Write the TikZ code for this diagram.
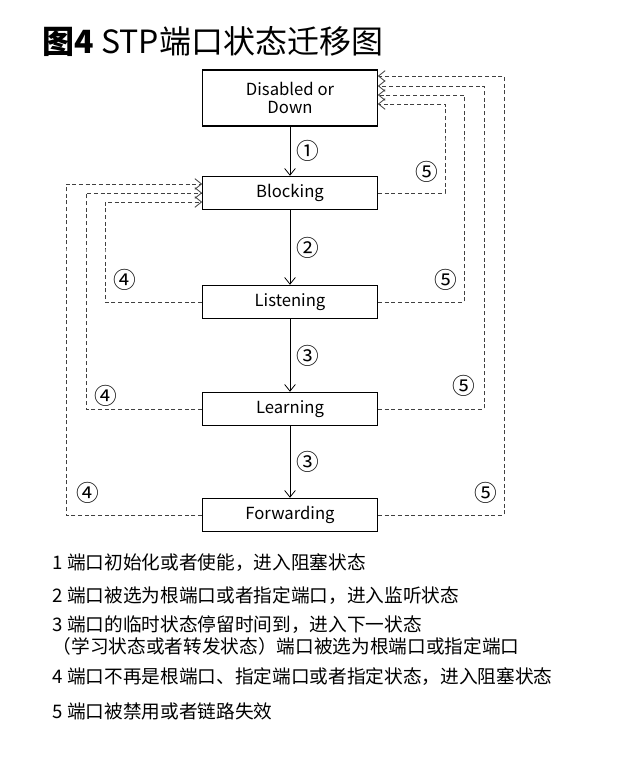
\documentclass[tikz,border=0pt]{standalone}
\usepackage{fontspec}
\setmainfont{Noto Sans CJK SC}
\usetikzlibrary{arrows.meta,calc}
\tikzset{
	zustand/.style={draw,line width=0.8pt,minimum width=131pt,minimum height=25pt,inner sep=0pt,font=\fontsize{12.5}{13.5}\selectfont,align=center},
	pfeil/.style={line width=0.6pt,-{Straight Barb[length=5pt,width=8pt]}},
	zurueck/.style={pfeil,dash pattern=on 3pt off 2pt,draw=black!75},
	nr/.style={font=\fontsize{17}{17}\selectfont}
}
\def\zeile#1#2#3{\node[anchor=west,font=\fontsize{14}{14}\selectfont] (#1) at (48,#2) {#3};}
\begin{document}
\begin{tikzpicture}[x=0.75pt,y=-0.75pt]
\useasboundingbox (0,0) rectangle (636,760);

\node[anchor=west,font=\fontsize{24}{24}\selectfont] (titel) at (38,42) {\textbf{图4} STP端口状态迁移图};

\node[zustand,minimum height=42pt] (dis) at (290,98) {Disabled or\\Down};
\node[zustand] (blk) at (290,193) {Blocking};
\node[zustand] (lis) at (290,302) {Listening};
\node[zustand] (lea) at (290,409) {Learning};
\node[zustand] (fwd) at (290,515) {Forwarding};

% Hauptweg
\draw[pfeil] (dis) -- (blk) node[nr,midway,right=1pt] {①};
\draw[pfeil] (blk) -- (lis) node[nr,midway,right=1pt] {②};
\draw[pfeil] (lis) -- (lea) node[nr,midway,right=1pt] {③};
\draw[pfeil] (lea) -- (fwd) node[nr,midway,right=1pt] {③};

% 5 rechts
\draw[zurueck] (blk.east) -| (445,140) |- ($(dis.east)+(0,6)$);
\draw[zurueck] (lis.east) -| (464,140) |- ($(dis.east)+(0,-3)$);
\draw[zurueck] (lea.east) -| (484,140) |- ($(dis.east)+(0,-12)$);
\draw[zurueck] (fwd.east) -| (504,140) |- ($(dis.east)+(0,-22)$);
\node[nr] (f1) at (427,172) {⑤};
\node[nr] (f2) at (446,280) {⑤};
\node[nr] (f3) at (464,386) {⑤};
\node[nr] (f4) at (486,493) {⑤};

% 4 links
\draw[zurueck] (lis.west) -| (105,250) |- ($(blk.west)+(0,9)$);
\draw[zurueck] (lea.west) -| (86,250) |- ($(blk.west)+(0,0)$);
\draw[zurueck] (fwd.west) -| (66,250) |- ($(blk.west)+(0,-9)$);
\node[nr] (v1) at (125,280) {④};
\node[nr] (v2) at (106,396) {④};
\node[nr] (v3) at (88,493) {④};

% Legende
\zeile{l1}{563}{1 端口初始化或者使能，进入阻塞状态}
\zeile{l2}{596}{2 端口被选为根端口或者指定端口，进入监听状态}
\zeile{l3}{625}{3 端口的临时状态停留时间到，进入下一状态}
\zeile{l4}{646}{（学习状态或者转发状态）端口被选为根端口或指定端口}
\zeile{l5}{677}{4 端口不再是根端口、指定端口或者指定状态，进入阻塞状态}
\zeile{l6}{711}{5 端口被禁用或者链路失效}
\end{tikzpicture}
\end{document}
